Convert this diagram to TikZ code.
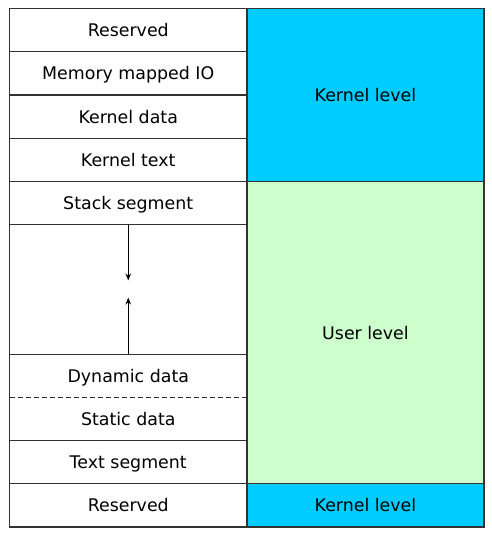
\documentclass[tikz,border=0pt]{standalone}
\usepackage{fontspec}
\setmainfont{DejaVu Sans}
\usetikzlibrary{arrows.meta}
\definecolor{kernelblue}{HTML}{00CCFF}
\definecolor{usergreen}{HTML}{CCFFCC}
\begin{document}
\begin{tikzpicture}[x=1pt, y=-1pt, line width=1.2pt,
    cell/.style={anchor=north west, inner sep=0pt, outer sep=0pt, minimum width=237.5pt, minimum height=43.2pt,
        text height=13pt, text depth=0pt, font=\fontsize{17.4}{20}\selectfont},
    box/.style={cell, draw=black!80},
    growth/.style={-{Stealth[length=7pt,width=5.5pt]}, line width=1.1pt}]
    \useasboundingbox (0,0) rectangle (492,539);
    % right column
    \node[box, fill=kernelblue, minimum width=237pt, minimum height=172.8pt] (kern) at (247,8.5) {Kernel level};
    \node[box, fill=usergreen, minimum width=237pt, minimum height=302.4pt] (user) at (247,181.3) {User level};
    \node[box, fill=kernelblue, minimum width=237pt] (kernlow) at (247,483.7) {Kernel level};
    % left column
    \foreach \name/\txt [count=\i from 0] in {restop/Reserved, mmio/Memory mapped IO, kdata/Kernel data, ktext/Kernel text, stack/Stack segment}
        \node[box] (\name) at (9.5,8.5+43.2*\i) {\txt};
    \node[box, minimum height=129.6pt] (gap) at (9.5,224.5) {};
    \node[cell] (dyn) at (9.5,354.1) {Dynamic data};
    \node[cell] (stat) at (9.5,397.3) {Static data};
    \draw[black!80] (dyn.north west) rectangle (stat.south east);
    \draw[black!80, line width=1pt, dash pattern=on 5pt off 3pt] (dyn.south west) -- (dyn.south east);
    \node[box] (txtseg) at (9.5,440.5) {Text segment};
    \node[box] (resbot) at (9.5,483.7) {Reserved};
    % stack and heap growth
    \coordinate (downtip) at (128.25,280.5);
    \coordinate (uptip) at (128.25,297.5);
    \draw[growth] (gap.north) -- (downtip);
    \draw[growth] (gap.south) -- (uptip);
\end{tikzpicture}
\end{document}
